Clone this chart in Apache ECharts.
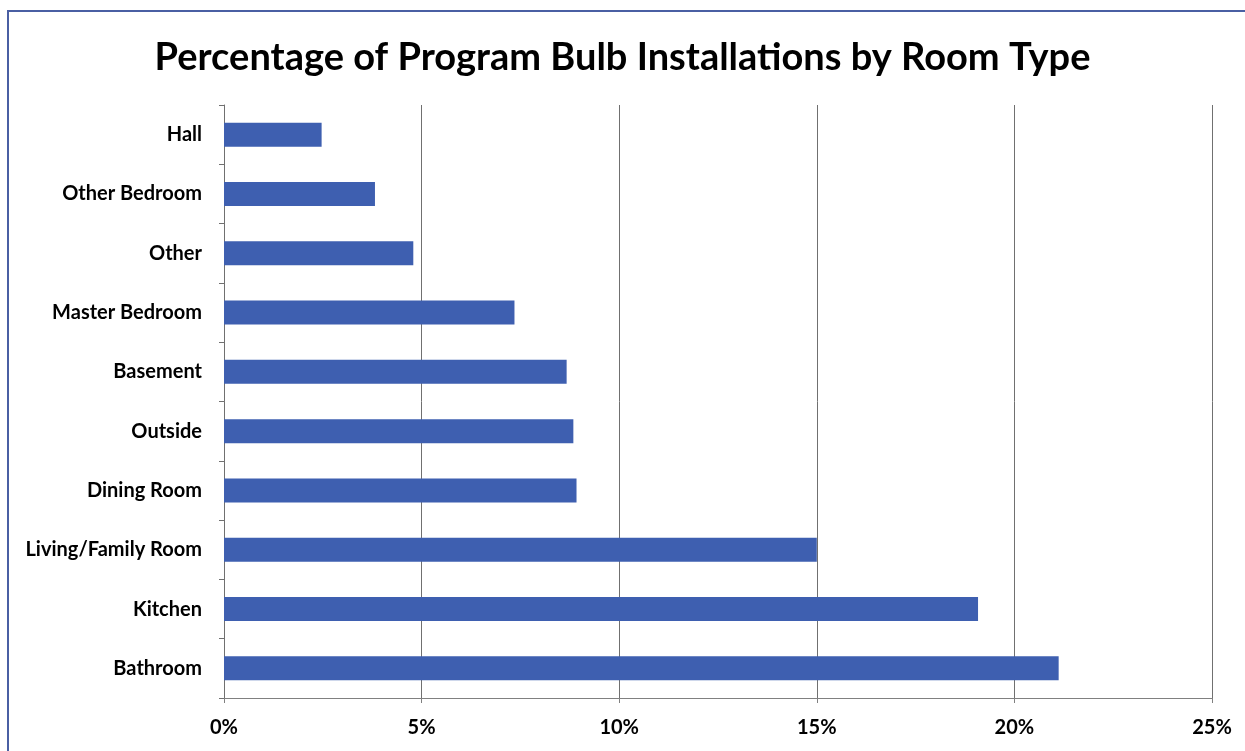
<!DOCTYPE html>
<html><head><meta charset="utf-8">
<script src="https://cdn.jsdelivr.net/npm/echarts@6/dist/echarts.min.js"></script>
<style>html,body{margin:0;padding:0;background:#fff}#c{width:1245px;height:751px}</style>
</head><body><div id="c"></div>
<script>
const categories = ['Hall','Other Bedroom','Other','Master Bedroom','Basement','Outside','Dining Room','Living/Family Room','Kitchen','Bathroom'];
const values = [2.47, 3.82, 4.79, 7.35, 8.67, 8.84, 8.92, 15.0, 19.08, 21.12];
const xTicks = [0, 5, 10, 15, 20, 25];
const titleText = 'Percentage of Program Bulb Installations by Room Type';

const chart = echarts.init(document.getElementById('c'), null, {renderer:'canvas'});
chart.setOption({
  backgroundColor:'#fff',
  animation:false,
  title:{text:titleText,left:'center',top:34,
    textStyle:{fontFamily:'Lato',fontWeight:'bold',fontSize:38,color:'#000'}},
  graphic:[{type:'rect',shape:{x:8,y:11,width:1300,height:800},
    style:{fill:'none',stroke:'#4a5fa3',lineWidth:2}}],
  grid:{left:224,right:33,top:105,bottom:53},
  xAxis:{type:'value',min:xTicks[0],max:xTicks[xTicks.length-1],interval:5,
    axisLine:{show:true,lineStyle:{color:'#808080',width:1}},
    axisTick:{show:true,length:5,lineStyle:{color:'#808080'}},
    splitLine:{show:true,lineStyle:{color:'#707070',width:1}},
    axisLabel:{formatter:v=>v+'%',margin:20,fontFamily:'Lato',fontWeight:'bold',fontSize:20,color:'#000'}},
  yAxis:{type:'category',data:categories,inverse:true,
    axisLine:{show:true,lineStyle:{color:'#707070',width:1}},
    axisTick:{show:true,length:5,lineStyle:{color:'#707070'}},
    axisLabel:{margin:22,fontFamily:'Lato',fontWeight:'bold',fontSize:20,color:'#000'}},
  series:[{type:'bar',data:values,barWidth:24,itemStyle:{color:'#3e5fb0'}}]
});
</script></body></html>
